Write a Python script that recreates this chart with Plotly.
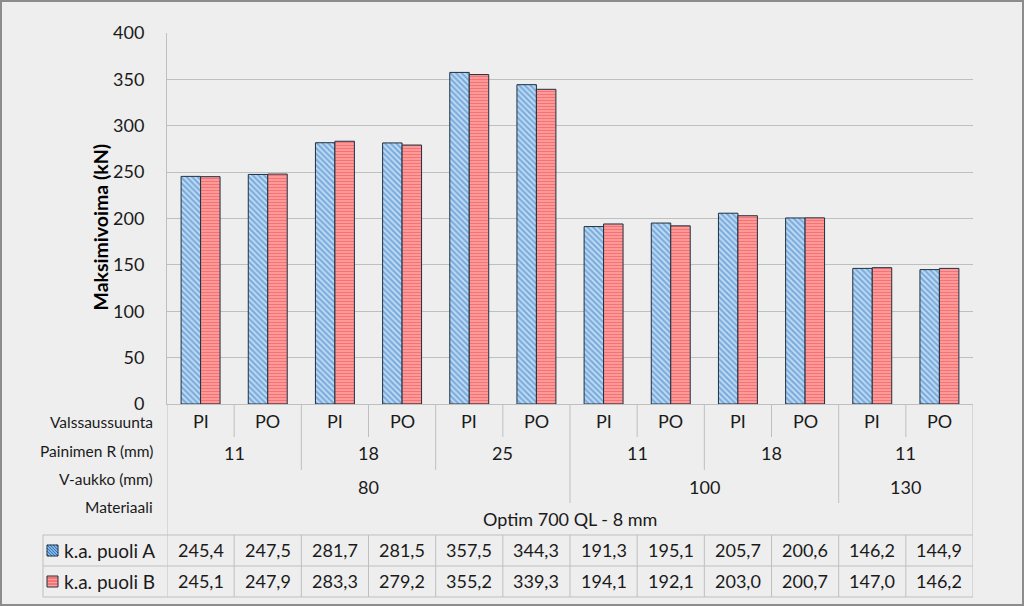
import plotly.graph_objects as go

# --- Data ---
direction = ["PI", "PO", "PI", "PO", "PI", "PO", "PI", "PO", "PI", "PO", "PI", "PO"]
radius_groups = [("11", 2), ("18", 2), ("25", 2), ("11", 2), ("18", 2), ("11", 2)]
vopen_groups = [("80", 6), ("100", 4), ("130", 2)]
material_groups = [("Optim 700 QL - 8 mm", 12)]
row_labels = ["Valssaussuunta", "Painimen R (mm)", "V-aukko (mm)", "Materiaali"]
series_names = ["k.a. puoli A", "k.a. puoli B"]
side_a = [245.4, 247.5, 281.7, 281.5, 357.5, 344.3, 191.3, 195.1, 205.7, 200.6, 146.2, 144.9]
side_b = [245.1, 247.9, 283.3, 279.2, 355.2, 339.3, 194.1, 192.1, 203.0, 200.7, 147.0, 146.2]

# --- Layout geometry (pixels) ---
W, H = 1024, 606
L, R, T, B = 167, 973, 33, 404
FONT = "Lato"
GRID = "#bfbfbf"
TXT = "#1a1a1a"
EDGE = "#1e3040"
BLUE_BG, BLUE_FG = "#c8e0f6", "#2f7ac4"
RED_BG, RED_FG = "#ffa0a0", "#ec4646"


def py(p):
    return (B - p) / (B - T)


def px(p):
    return (p - L) / (R - L)


xs = list(range(len(direction)))

fig = go.Figure()
fig.add_trace(go.Bar(
    x=xs, y=side_a, name=series_names[0],
    marker=dict(color=BLUE_BG, line=dict(color=EDGE, width=1),
                pattern=dict(shape="\\", fgcolor=BLUE_FG, size=4, solidity=0.6, fillmode="overlay")),
))
fig.add_trace(go.Bar(
    x=xs, y=side_b, name=series_names[1],
    marker=dict(color=RED_BG, line=dict(color=EDGE, width=1),
                pattern=dict(shape="-", fgcolor=RED_FG, size=3, solidity=0.45, fillmode="overlay")),
))

shapes = []
ann = []


def hline(x0, x1, y, color=GRID):
    shapes.append(dict(type="line", xref="paper", yref="paper", x0=px(x0), x1=px(x1), y0=py(y), y1=py(y),
                       line=dict(color=color, width=1)))


# outer border
shapes.append(dict(type="rect", xref="paper", yref="paper", x0=px(1), x1=px(W - 1), y0=py(H - 1), y1=py(1),
                   line=dict(color="#8c8c8c", width=2)))

# category axis rows
row_y = [421, 453, 487, 519]
row_bottom = [437, 470, 503, 534]
label_y = [422, 451, 479, 507]
for lbl, y in zip(row_labels, label_y):
    ann.append(dict(xref="paper", yref="paper", x=px(155), y=py(y), text=lbl, showarrow=False,
                    xanchor="right", yanchor="middle", font=dict(size=15.5, color=TXT)))

for i, d in enumerate(direction):
    ann.append(dict(xref="x", yref="paper", x=xs[i], y=py(row_y[0]), text=d, showarrow=False,
                    yanchor="middle", font=dict(size=18, color=TXT)))


def group_rows(groups, level):
    start = 0
    out = []
    for name, n in groups:
        center = start + (n - 1) / 2
        ann.append(dict(xref="x", yref="paper", x=center, y=py(row_y[level]), text=name, showarrow=False,
                        yanchor="middle", font=dict(size=18, color=TXT)))
        start += n
        out.append(start - 0.5)
    return out


bounds = {}
for lvl, groups in enumerate([[(d, 1) for d in direction], radius_groups, vopen_groups, material_groups]):
    if lvl == 0:
        ends = [i + 0.5 for i in xs]
    else:
        ends = group_rows(groups, lvl)
    for e in ends:
        bounds[e] = lvl

for e, lvl in bounds.items():
    if e >= len(xs) - 0.5:
        continue
    shapes.append(dict(type="line", xref="x", yref="paper", x0=e, x1=e, y0=py(B), y1=py(row_bottom[lvl]),
                       line=dict(color=GRID, width=1)))

# left and right edges down to the data table bottom
for e in [-0.5, len(xs) - 0.5]:
    shapes.append(dict(type="line", xref="x", yref="paper", x0=e, x1=e, y0=py(B), y1=py(597),
                       line=dict(color=GRID, width=1)))

# data table
tab_top, tab_mid, tab_bot = 535, 566, 597
for yy in [tab_top, tab_mid, tab_bot]:
    hline(43, R, yy)
shapes.append(dict(type="line", xref="paper", yref="paper", x0=px(43), x1=px(43), y0=py(tab_top), y1=py(tab_bot),
                   line=dict(color=GRID, width=1)))
for i in xs[:-1]:
    shapes.append(dict(type="line", xref="x", yref="paper", x0=i + 0.5, x1=i + 0.5, y0=py(tab_top), y1=py(tab_bot),
                       line=dict(color=GRID, width=1)))

# legend keys in the table (hatched little boxes)
kx0, kx1 = 47, 58
rows = [(series_names[0], side_a, 550, BLUE_BG, BLUE_FG, "diag"),
        (series_names[1], side_b, 581, RED_BG, RED_FG, "horiz")]
for name, vals, yc, bg, fg, kind in rows:
    ky0, ky1 = yc - 5, yc + 6
    shapes.append(dict(type="rect", xref="paper", yref="paper", x0=px(kx0), x1=px(kx1), y0=py(ky1), y1=py(ky0),
                       fillcolor=bg, line=dict(width=0)))
    if kind == "diag":
        for c in range(-9, 12, 3):
            # line x - y' = c, with y' measured from the top of the box
            xa = max(kx0, kx0 + c)
            xb = min(kx1, kx0 + c + (ky1 - ky0))
            if xb <= xa:
                continue
            ya = ky0 + (xa - kx0 - c)
            yb = ky0 + (xb - kx0 - c)
            shapes.append(dict(type="line", xref="paper", yref="paper", x0=px(xa), x1=px(xb), y0=py(ya), y1=py(yb),
                               line=dict(color=fg, width=1.3)))
    else:
        for yy in range(ky0 + 2, ky1, 3):
            hline(kx0, kx1, yy, fg)
    shapes.append(dict(type="rect", xref="paper", yref="paper", x0=px(kx0), x1=px(kx1), y0=py(ky1), y1=py(ky0),
                       line=dict(color=EDGE, width=1)))
    ann.append(dict(xref="paper", yref="paper", x=px(62), y=py(yc), text=name, showarrow=False,
                    xanchor="left", yanchor="middle", font=dict(size=19, color=TXT)))
    for i, v in enumerate(vals):
        ann.append(dict(xref="x", yref="paper", x=xs[i], y=py(yc), text=f"{v:.1f}".replace(".", ","),
                        showarrow=False, yanchor="middle", font=dict(size=18, color=TXT)))

# y title
ann.append(dict(xref="paper", yref="paper", x=px(86), y=py(227), text="<b>Maksimivoima (kN)</b>",
                textangle=-90, showarrow=False, font=dict(size=19.5, color="#000000")))

fig.update_layout(
    width=W, height=H,
    margin=dict(l=L, r=W - R, t=T, b=H - B),
    paper_bgcolor="#eeeeee", plot_bgcolor="#eeeeee",
    font=dict(family=FONT, size=16, color=TXT),
    barmode="group", bargap=0.42, bargroupgap=0,
    showlegend=False,
    shapes=shapes, annotations=ann,
)
fig.update_xaxes(range=[-0.5, len(xs) - 0.5], showticklabels=False, showgrid=False, zeroline=False,
                 showline=True, linecolor=GRID, linewidth=1, ticks="")
fig.update_yaxes(range=[0, 400], dtick=50, showgrid=True, gridcolor=GRID, gridwidth=1, zeroline=False,
                 showline=True, linecolor=GRID, linewidth=1, ticks="", ticklabelstandoff=18,
                 tickfont=dict(size=18, color=TXT))

fig.write_html("out.html", config={"displayModeBar": False},
               post_script="document.body.style.margin='0';document.body.style.overflow='hidden';")
